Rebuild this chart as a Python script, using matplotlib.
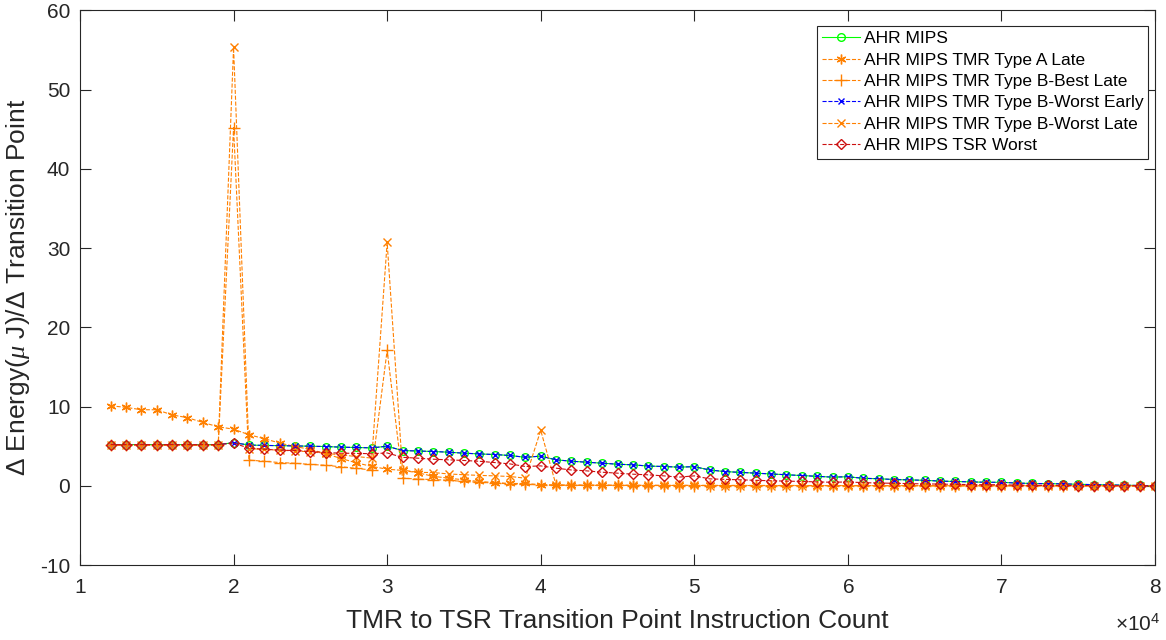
import matplotlib
matplotlib.use('Agg')
import matplotlib.pyplot as plt

plt.rcParams['font.family'] = ['Liberation Sans', 'DejaVu Sans']
plt.rcParams['mathtext.fontset'] = 'custom'
plt.rcParams['mathtext.rm'] = 'Liberation Sans'
plt.rcParams['mathtext.it'] = 'Liberation Serif:italic'
plt.rcParams['axes.unicode_minus'] = False

# transition point (instruction count), one sample every 1000 instructions
transition_points = list(range(12000, 80001, 1000))

ahr_mips = [5.2, 5.2, 5.2, 5.2, 5.2, 5.2, 5.2, 5.2,
            5.45,
            5.15, 5.1, 5.07, 5.04, 5.0, 4.96, 4.88, 4.84, 4.79,
            5.0,
            4.45, 4.4, 4.33, 4.25, 4.12, 4.03, 3.95, 3.83, 3.6,
            3.75,
            3.28, 3.11, 2.98, 2.86, 2.73, 2.65, 2.5, 2.44, 2.36,
            2.42,
            2.0, 1.8, 1.7, 1.6, 1.5, 1.4, 1.3, 1.2, 1.1,
            1.15,
            0.95, 0.9, 0.8, 0.75, 0.7, 0.6, 0.55, 0.5, 0.45,
            0.45,
            0.35, 0.3, 0.28, 0.25, 0.2, 0.15, 0.12, 0.08, 0.05, 0.02]

tmr_a_late = [10.1, 9.9, 9.6, 9.6, 8.95, 8.6, 8.0, 7.45,
              7.15,
              6.45, 5.95, 5.4, 4.96, 4.6, 4.05, 3.45, 2.9, 2.45,
              2.1,
              1.95, 1.65, 1.2, 0.97, 0.76, 0.55, 0.42, 0.3, 0.3,
              0.15,
              0.12, 0.1, 0.1, 0.1, 0.08, 0.08, 0.08, 0.07, 0.07,
              0.07,
              0.06, 0.06, 0.06, 0.05, 0.05, 0.05, 0.05, 0.04, 0.04,
              0.04,
              0.04, 0.03, 0.03, 0.03, 0.03, 0.02, 0.02, 0.02, 0.02,
              0.02,
              0.01, 0.01, 0.01, 0.01, 0.01, 0.01, 0.0, 0.0, 0.0, 0.0]

tmr_b_best_late = [5.1, 5.1, 5.1, 5.1, 5.1, 5.1, 5.1, 5.1,
                   45.2,
                   3.25, 3.1, 2.94, 2.85, 2.7, 2.6, 2.4, 2.2, 2.0,
                   17.1,
                   0.97, 0.85, 0.8, 0.7, 0.55, 0.45, 0.35, 0.25, 0.2,
                   0.1,
                   0.06, 0.05, 0.05, 0.05, 0.05, 0.04, 0.04, 0.04, 0.04,
                   0.04,
                   0.03, 0.03, 0.03, 0.03, 0.03, 0.03, 0.02, 0.02, 0.02,
                   0.02,
                   0.02, 0.02, 0.02, 0.01, 0.01, 0.01, 0.01, 0.01, 0.01,
                   0.01,
                   0.01, 0.01, 0.0, 0.0, 0.0, 0.0, 0.0, 0.0, 0.0, 0.0]

tmr_b_worst_early = [5.2, 5.2, 5.2, 5.2, 5.2, 5.2, 5.2, 5.2,
                     5.45,
                     5.15, 5.1, 5.07, 5.04, 5.0, 4.96, 4.88, 4.84, 4.79,
                     5.0,
                     4.45, 4.4, 4.33, 4.25, 4.12, 4.03, 3.95, 3.83, 3.6,
                     3.75,
                     3.28, 3.11, 2.98, 2.86, 2.73, 2.65, 2.5, 2.44, 2.36,
                     2.42,
                     2.0, 1.8, 1.7, 1.6, 1.5, 1.4, 1.3, 1.2, 1.1,
                     1.15,
                     0.95, 0.9, 0.8, 0.75, 0.7, 0.6, 0.55, 0.5, 0.45,
                     0.45,
                     0.35, 0.3, 0.28, 0.25, 0.2, 0.15, 0.12, 0.08, 0.05, 0.02]

tmr_b_worst_late = [5.15, 5.15, 5.15, 5.15, 5.15, 5.15, 5.15, 5.15,
                    55.3,
                    4.7, 4.6, 4.5, 4.4, 4.3, 4.1, 3.9, 3.7, 3.5,
                    30.7,
                    2.0, 1.7, 1.68, 1.5, 1.4, 1.32, 1.26, 1.18, 0.97,
                    7.0,
                    0.08, 0.07, 0.07, 0.06, 0.06, 0.06, 0.05, 0.05, 0.05,
                    0.05,
                    0.04, 0.04, 0.04, 0.04, 0.03, 0.03, 0.03, 0.03, 0.03,
                    0.03,
                    0.02, 0.02, 0.02, 0.02, 0.02, 0.01, 0.01, 0.01, 0.01,
                    0.01,
                    0.01, 0.01, 0.0, 0.0, 0.0, 0.0, 0.0, 0.0, 0.0, 0.0]

tsr_worst = [5.2, 5.2, 5.2, 5.2, 5.2, 5.2, 5.2, 5.2,
             5.4,
             4.75, 4.62, 4.5, 4.46, 4.33, 4.2, 4.12, 4.1, 4.05,
             4.15,
             3.6, 3.49, 3.36, 3.28, 3.2, 3.1, 2.94, 2.77, 2.44,
             2.52,
             2.23, 2.0, 1.89, 1.72, 1.6, 1.47, 1.39, 1.26, 1.1,
             1.26,
             0.88, 0.82, 0.76, 0.7, 0.64, 0.6, 0.55, 0.5, 0.45,
             0.5,
             0.4, 0.36, 0.32, 0.28, 0.25, 0.22, 0.19, 0.16, 0.14,
             0.15,
             0.08, 0.07, 0.06, 0.05, 0.04, 0.03, 0.02, 0.02, 0.01, 0.0]

orange = '#ff8000'

fig = plt.figure(figsize=(11.66, 6.4), dpi=100)
ax = fig.add_axes([0.0686, 0.117, 0.922, 0.867])

ax.plot(transition_points, ahr_mips, '-', color='#00ff00', marker='o',
        markersize=5.5, markerfacecolor='none', linewidth=0.8, label='AHR MIPS')
ax.plot(transition_points, tmr_a_late, '--', color=orange, marker=(6, 2, 0),
        markersize=7, linewidth=0.8, label='AHR MIPS TMR Type A Late')
ax.plot(transition_points, tmr_b_best_late, '--', color=orange, marker='+',
        markersize=8, linewidth=0.8, label='AHR MIPS TMR Type B-Best Late')
ax.plot(transition_points, tmr_b_worst_early, '--', color='#0000ff', marker='x',
        markersize=5, linewidth=0.8, label='AHR MIPS TMR Type B-Worst Early')
ax.plot(transition_points, tmr_b_worst_late, '--', color=orange, marker='x',
        markersize=5.5, linewidth=0.8, label='AHR MIPS TMR Type B-Worst Late')
ax.plot(transition_points, tsr_worst, '--', color='#cc1010', marker='D',
        markersize=5.5, markerfacecolor='none', linewidth=0.8, label='AHR MIPS TSR Worst')

ax.set_xlim(10000, 80000)
ax.set_ylim(-10, 60)
ax.set_xticks(range(10000, 80001, 10000))
ax.set_yticks(range(-10, 61, 10))
ax.ticklabel_format(style='sci', axis='x', scilimits=(0, 0), useMathText=True)
ax.xaxis.get_offset_text().set_visible(False)
ax.text(1.005, -0.118, r'$\times$10$^{4}$', transform=ax.transAxes, ha='right',
        va='baseline', fontsize=15, color='#262626')

ax.tick_params(direction='in', top=True, right=True, length=8, width=0.8,
               labelsize=15, colors='#262626')
ax.tick_params(axis='x', pad=9)
ax.tick_params(axis='y', pad=7)
for spine in ax.spines.values():
    spine.set_color('#262626')
    spine.set_linewidth(0.8)

ax.set_xlabel('TMR to TSR Transition Point Instruction Count', fontsize=19,
              color='#262626', labelpad=9)
ax.set_ylabel(r'$\Delta$ Energy($\mu$ J)/$\Delta$ Transition Point', fontsize=19,
              color='#262626', labelpad=6)

leg = ax.legend(loc='upper right', bbox_to_anchor=(0.997, 0.978), fontsize=12.5,
                frameon=True, fancybox=False, edgecolor='#262626', framealpha=1,
                handlelength=2.2, borderpad=0.3, labelspacing=0.36,
                handletextpad=0.2, borderaxespad=0.2)
leg.get_frame().set_linewidth(0.8)

fig.savefig('out.png', dpi=100)
